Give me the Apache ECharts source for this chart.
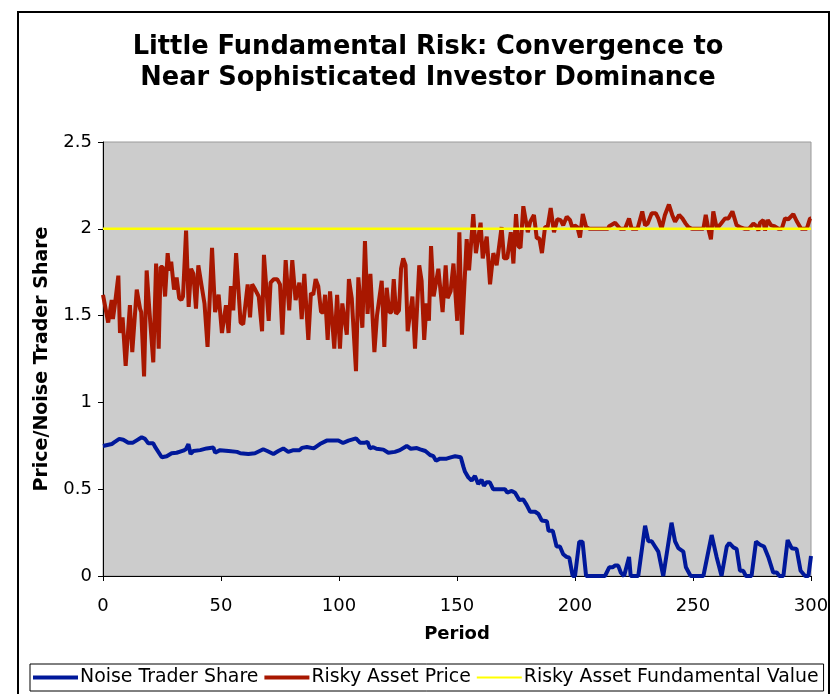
<!DOCTYPE html>
<html>
<head>
<meta charset="utf-8">
<script src="https://cdn.jsdelivr.net/npm/echarts@6/dist/echarts.min.js"></script>
<style>
html,body{margin:0;padding:0;background:#fff;}
#chart{width:833px;height:694px;}
</style>
</head>
<body>
<div id="chart"></div>
<script>
const titleText = 'Little Fundamental Risk: Convergence to\nNear Sophisticated Investor Dominance';
const seriesNames = ['Noise Trader Share', 'Risky Asset Price', 'Risky Asset Fundamental Value'];
const xTicks = [0, 50, 100, 150, 200, 250, 300];
const yTicks = [0, 0.5, 1, 1.5, 2, 2.5];

const shareT = [0,3.7,4.7,6.9,8.6,10.7,12.7,14.1,16.4,17.8,19.2,21.3,22,24.9,27,29.1,31.2,34,35.1,36.2,37.1,38.3,41.2,43.9,46.8,47.5,49.6,53.2,56.8,58.2,61.6,64.4,67.9,69.6,72.2,74.3,76.4,78.5,80.7,83.3,84.3,86.4,89.3,91.9,94.8,97.6,99.7,101.7,104,107.2,108.9,111,112.1,113.1,114.5,115.9,118.8,120.9,123.7,125.8,128.7,130.4,133,134.4,136.6,138.6,140,141.1,142.8,145.6,147.7,149.2,151.6,152.7,153.4,154.8,156.2,157.6,159,160.4,161.4,162.5,163.9,165.3,167.5,170.3,171.3,173.2,174.6,176.4,178.1,179.5,181,183.1,184.5,185.9,188.1,188.8,190.6,192.2,193.6,195,196.4,197.6,199,200,201.8,203.2,204.7,212.7,213.4,214.5,215.9,216.9,218.3,219.4,220.8,222.9,223.6,226.8,229.7,231.1,232.5,233.9,235.3,237.4,240.9,242.4,243.8,245.9,247,249,254.4,257.9,260,262.1,264.3,265.4,267.1,268.5,269.9,271.3,272.4,274.8,276.7,278.4,280.1,281.9,284,285.5,286.6,288.3,290.1,291.8,293.9,295.6,297.5,298.9,300];
const shareY = [0.749,0.76,0.77,0.79,0.785,0.768,0.768,0.78,0.799,0.79,0.764,0.764,0.745,0.684,0.69,0.707,0.71,0.722,0.73,0.76,0.703,0.72,0.725,0.735,0.74,0.71,0.725,0.72,0.715,0.707,0.703,0.707,0.73,0.72,0.703,0.72,0.735,0.715,0.725,0.725,0.738,0.743,0.735,0.76,0.78,0.78,0.78,0.766,0.78,0.793,0.768,0.768,0.772,0.735,0.742,0.733,0.728,0.71,0.715,0.725,0.749,0.733,0.737,0.73,0.72,0.697,0.69,0.664,0.676,0.676,0.685,0.69,0.684,0.63,0.6,0.568,0.55,0.576,0.53,0.555,0.52,0.54,0.54,0.5,0.5,0.5,0.48,0.49,0.48,0.438,0.44,0.41,0.37,0.37,0.357,0.32,0.315,0.26,0.26,0.17,0.17,0.125,0.11,0.105,0,0,0.198,0.198,0,0,0.01,0.05,0.05,0.06,0.06,0.02,0,0.11,0,0,0.29,0.2,0.2,0.17,0.14,0,0.307,0.2,0.16,0.14,0.05,0,0,0.236,0.11,0,0.17,0.19,0.165,0.155,0.03,0.03,0,0,0.198,0.18,0.17,0.11,0.02,0.02,0,0,0.207,0.16,0.155,0.03,0,0,0.115];

const priceT = [0,2.2,2.7,3.7,4.2,5.1,6.5,7.2,8.3,9.6,11.4,12.4,14.3,15.7,16.2,17.4,18.5,19.6,20.3,21.3,22.5,23.6,24.4,25.3,26.3,27.4,28.1,28.9,30.1,31.2,32.3,33.2,33.9,35.2,36.3,37.3,38.3,39.4,40.4,41.8,43,44.3,46.2,47.5,49,50.4,52.1,53.2,54.2,55.2,56.4,58.3,59.4,61.3,62.3,63.2,64.5,66,67.4,68.2,70.2,71,72.4,73.8,75,76,77.4,78.9,80.2,81.6,82.4,83.2,84.2,85.3,87,88.1,89.1,90.1,91.2,92.4,93.4,94.1,95.2,96.2,98,99.2,100.4,101.4,103.3,104.2,105.4,106.2,107.2,108.2,109.9,111,112.1,113.3,115,116.1,116.8,118.1,119.2,120.2,121.3,122.3,123.2,124.2,125.4,126.3,127.2,128.2,129.1,131.1,132.2,134,135,136.1,137.1,138.1,139,140.1,142.1,143.9,145.2,146,147.3,148.5,150.1,151,152.1,154.1,155.1,156.9,158,160,160.9,162.6,164,165.4,166.8,168.9,169.9,171.3,172.8,173.9,175,176,176.9,178.1,180,181,182.6,183.8,184.9,186,187.3,188.4,189.7,191.1,192.5,193.9,195,196.5,197.9,199,199.9,201,202.1,203.3,204.7,206.1,214,214.5,217,219.1,221.2,222.9,224,226.5,228.5,229.7,230.8,232.5,234.2,235.3,236.7,238.1,239.8,241.2,242.4,244.1,245.5,246.9,248,249.5,254.4,255.4,256.5,257.6,258.6,260.1,261.9,263.6,265,266.7,268.5,269.9,272,273.7,275.6,277,277.7,278.4,279.8,280.5,281.7,283.1,284.5,286.2,287.6,289,290.4,292.5,293.9,295.8,298.2,299.6,300];
const priceY = [1.62,1.46,1.45,1.59,1.48,1.57,1.73,1.4,1.49,1.21,1.56,1.29,1.65,1.54,1.52,1.15,1.76,1.54,1.54,1.23,1.8,1.31,1.78,1.78,1.61,1.86,1.76,1.81,1.65,1.72,1.6,1.59,1.61,1.99,1.55,1.77,1.74,1.54,1.79,1.67,1.57,1.32,1.89,1.52,1.62,1.4,1.56,1.4,1.67,1.53,1.86,1.46,1.45,1.68,1.49,1.68,1.65,1.61,1.41,1.85,1.47,1.69,1.71,1.71,1.68,1.39,1.82,1.53,1.82,1.59,1.58,1.69,1.48,1.74,1.36,1.63,1.62,1.71,1.67,1.52,1.52,1.62,1.36,1.64,1.31,1.62,1.31,1.57,1.39,1.71,1.6,1.6,1.18,1.72,1.43,1.93,1.51,1.74,1.29,1.5,1.49,1.7,1.32,1.66,1.52,1.52,1.71,1.51,1.53,1.77,1.83,1.79,1.41,1.61,1.31,1.79,1.7,1.36,1.57,1.47,1.9,1.61,1.77,1.52,1.79,1.6,1.64,1.8,1.47,1.98,1.39,1.94,1.76,2.085,1.86,2.035,1.83,1.955,1.68,1.86,1.79,2.01,1.83,1.83,1.98,1.8,2.085,1.9,1.89,2.13,1.98,2.04,2.08,1.945,1.945,1.86,2.01,2.01,2.12,1.98,2.055,2.05,2.02,2.07,2.05,2,2.02,2.01,1.95,2.085,2.01,2,2,2.015,2.035,2,2,2.06,2,2,2.1,2.02,2.03,2.09,2.09,2.06,2,2.08,2.14,2.08,2.04,2.08,2.06,2.03,2.01,2,2,2.08,2,1.94,2.1,2,2.03,2.06,2.06,2.1,2.02,2.01,2,2,2.03,2.015,1.99,2.035,2.05,1.99,2.05,2.02,2.015,2,2,2.06,2.055,2.085,2.045,2,2,2.06,2.06];

const fundT = [0, 300];
const fundY = [2, 2];

const zip = (a, b) => a.map((v, i) => [v, b[i]]);
const FONT = '"DejaVu Sans", Verdana, sans-serif';

const chart = echarts.init(document.getElementById('chart'), null, {renderer: 'canvas'});
chart.setOption({
  animation: false,
  backgroundColor: '#ffffff',
  title: {
    text: titleText,
    left: 423,
    textAlign: 'center',
    top: 27,
    padding: 5,
    textStyle: {fontFamily: FONT, fontWeight: 'bold', fontSize: 25.7, lineHeight: 31, color: '#000'}
  },
  graphic: [{
    type: 'rect',
    shape: {x: 18, y: 12, width: 811, height: 720},
    style: {fill: 'none', stroke: '#000', lineWidth: 2},
    silent: true
  }],
  grid: {
    left: 103, right: 22, top: 142, bottom: 118,
    show: true, backgroundColor: '#cccccc', borderColor: '#9a9a9a', borderWidth: 1
  },
  xAxis: {
    type: 'value', min: 0, max: 300, interval: 50,
    name: 'Period', nameLocation: 'middle', nameGap: 49,
    nameTextStyle: {fontFamily: FONT, fontWeight: 'bold', fontSize: 18, color: '#000'},
    axisLine: {lineStyle: {color: '#000', width: 1}},
    axisTick: {show: true, length: 5, lineStyle: {color: '#000'}},
    axisLabel: {fontFamily: FONT, fontSize: 18, color: '#000', margin: 21,
      formatter: v => xTicks.includes(v) ? String(v) : ''},
    splitLine: {show: false}
  },
  yAxis: {
    type: 'value', min: 0, max: 2.5, interval: 0.5,
    name: 'Price/Noise Trader Share', nameLocation: 'middle', nameGap: 51,
    nameTextStyle: {fontFamily: FONT, fontWeight: 'bold', fontSize: 19, color: '#000'},
    axisLine: {show: true, lineStyle: {color: '#000', width: 1}},
    axisTick: {show: true, length: 5, lineStyle: {color: '#000'}},
    axisLabel: {fontFamily: FONT, fontSize: 18, color: '#000', margin: 11,
      formatter: v => yTicks.includes(v) ? String(v) : ''},
    splitLine: {show: false}
  },
  legend: {
    left: 30, top: 664, padding: [4, 5, 4, 3], itemGap: 6,
    itemWidth: 45, itemHeight: 14,
    borderColor: '#000', borderWidth: 1,
    textStyle: {fontFamily: FONT, fontSize: 18.9, color: '#000', padding: [0, 0, 0, -3]},
    data: [
      {name: seriesNames[0], icon: 'path://M0,0H45V4H0Z'},
      {name: seriesNames[1], icon: 'path://M0,0H45V4H0Z'},
      {name: seriesNames[2], icon: 'path://M0,0H45V2H0Z'}
    ]
  },
  series: [
    {name: seriesNames[0], type: 'line', data: zip(shareT, shareY), symbol: 'none',
      lineStyle: {color: '#00189a', width: 4}, itemStyle: {color: '#00189a'}, z: 2},
    {name: seriesNames[1], type: 'line', data: zip(priceT, priceY), symbol: 'none',
      lineStyle: {color: '#a81700', width: 4}, itemStyle: {color: '#a81700'}, z: 3},
    {name: seriesNames[2], type: 'line', data: zip(fundT, fundY), symbol: 'none',
      lineStyle: {color: '#ffff00', width: 2.5}, itemStyle: {color: '#ffff00'}, z: 4}
  ]
});
</script>
</body>
</html>
